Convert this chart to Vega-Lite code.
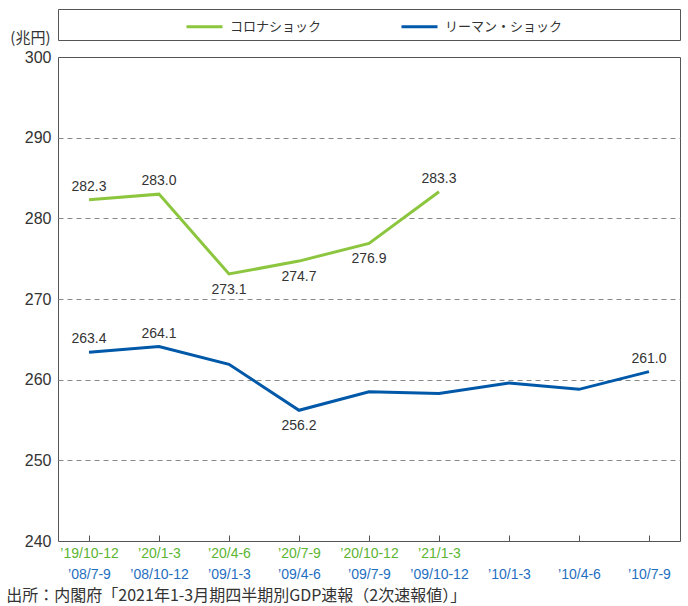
{
  "$schema": "https://vega.github.io/schema/vega-lite/v6.json",
  "padding": {"left": 6, "top": 7, "right": 8, "bottom": 0},
  "config": {
    "font": "Liberation Sans",
    "view": {"stroke": "#555", "strokeWidth": 1}
  },
  "title": {
    "text": "出所：内閣府「2021年1-3月期四半期別GDP速報（2次速報値）」",
    "orient": "bottom", "anchor": "start", "frame": "bounds",
    "font": "Noto Sans CJK JP", "fontSize": 16, "fontWeight": "normal",
    "color": "#333", "offset": 6, "dx": -3
  },
  "spacing": 17,
  "bounds": "flush",
  "vconcat": [
    {
      "width": 622, "height": 31,
      "view": {"stroke": "#555", "strokeWidth": 1, "fill": "white"},
      "data": {"values": [{"series": "コロナショック"}]},
      "mark": {"type": "text", "opacity": 0},
      "encoding": {"text": {"field": "series", "type": "nominal"}}
    },
    {
      "width": 622, "height": 484,
      "data": {"values": [
        {"series": "コロナショック", "idx": 0, "quarter": "’19/10-12", "value": 282.3},
        {"series": "コロナショック", "idx": 1, "quarter": "’20/1-3", "value": 283.0},
        {"series": "コロナショック", "idx": 2, "quarter": "’20/4-6", "value": 273.1},
        {"series": "コロナショック", "idx": 3, "quarter": "’20/7-9", "value": 274.7},
        {"series": "コロナショック", "idx": 4, "quarter": "’20/10-12", "value": 276.9},
        {"series": "コロナショック", "idx": 5, "quarter": "’21/1-3", "value": 283.3},
        {"series": "リーマン・ショック", "idx": 0, "quarter": "’08/7-9", "value": 263.4},
        {"series": "リーマン・ショック", "idx": 1, "quarter": "’08/10-12", "value": 264.1},
        {"series": "リーマン・ショック", "idx": 2, "quarter": "’09/1-3", "value": 261.9},
        {"series": "リーマン・ショック", "idx": 3, "quarter": "’09/4-6", "value": 256.2},
        {"series": "リーマン・ショック", "idx": 4, "quarter": "’09/7-9", "value": 258.5},
        {"series": "リーマン・ショック", "idx": 5, "quarter": "’09/10-12", "value": 258.3},
        {"series": "リーマン・ショック", "idx": 6, "quarter": "’10/1-3", "value": 259.6},
        {"series": "リーマン・ショック", "idx": 7, "quarter": "’10/4-6", "value": 258.8},
        {"series": "リーマン・ショック", "idx": 8, "quarter": "’10/7-9", "value": 261.0}
      ]},
      "encoding": {
        "y": {
          "field": "value", "type": "quantitative",
          "scale": {"domain": [240, 300], "zero": false, "nice": false},
          "axis": {
            "values": [240, 250, 260, 270, 280, 290, 300],
            "title": "(兆円)", "titleAngle": 0, "titleAlign": "right", "titleBaseline": "bottom",
            "titleX": -8, "titleY": -12,
            "titleFont": "Noto Sans CJK JP", "titleFontSize": 15, "titleFontWeight": "normal", "titleColor": "#333",
            "labelFontSize": 16, "labelColor": "#333", "labelPadding": 7,
            "ticks": false, "domain": false,
            "grid": true, "gridColor": "#888", "gridDash": [5, 4], "gridWidth": 1,
            "gridOpacity": {"condition": {"test": "datum.value == 240 || datum.value == 300", "value": 0}, "value": 1}
          }
        },
        "color": {
          "field": "series", "type": "nominal",
          "scale": {"domain": ["コロナショック", "リーマン・ショック"], "range": ["#8cc63f", "#0058a8"]},
          "legend": {
            "orient": "none", "legendX": 127, "legendY": -2,
            "direction": "horizontal", "title": null,
            "symbolType": "stroke", "symbolSize": 1296, "symbolStrokeWidth": 3,
            "labelFont": "Noto Sans CJK JP", "labelFontSize": 13, "labelColor": "#333",
            "labelOffset": 6, "columnPadding": 73
          }
        }
      },
      "layer": [
        {
          "mark": {"type": "line", "strokeWidth": 3},
          "encoding": {
            "x": {
              "field": "idx", "type": "ordinal",
              "scale": {"type": "point", "padding": 0.443},
              "axis": {
                "orient": "bottom", "title": null, "labelAngle": 0,
                "labelExpr": "['’19/10-12','’20/1-3','’20/4-6','’20/7-9','’20/10-12','’21/1-3','','',''][datum.value]",
                "labelColor": "#5cb531", "labelFontSize": 14, "labelPadding": 11, "labelBaseline": "top",
                "tickSize": -6, "tickColor": "#555", "domain": false, "grid": false
              }
            }
          }
        },
        {
          "transform": [{"filter": "(datum.series == 'コロナショック' && (datum.idx <= 1 || datum.idx == 5)) || (datum.series == 'リーマン・ショック' && (datum.idx <= 1 || datum.idx == 8))"}],
          "mark": {"type": "text", "baseline": "bottom", "dy": -6, "fontSize": 14},
          "encoding": {
            "x": {
              "field": "idx", "type": "ordinal",
              "axis": {
                "orient": "bottom", "title": null, "labelAngle": 0,
                "labelExpr": "['’08/7-9','’08/10-12','’09/1-3','’09/4-6','’09/7-9','’09/10-12','’10/1-3','’10/4-6','’10/7-9'][datum.value]",
                "labelColor": "#1f6fc1", "labelFontSize": 14, "labelPadding": 26, "labelBaseline": "top",
                "ticks": false, "domain": false, "grid": false
              }
            },
            "text": {"field": "value", "type": "quantitative", "format": ".1f"},
            "color": {"value": "#333"}
          }
        },
        {
          "transform": [{"filter": "(datum.series == 'コロナショック' && datum.idx >= 2 && datum.idx <= 4) || (datum.series == 'リーマン・ショック' && datum.idx == 3)"}],
          "mark": {"type": "text", "baseline": "top", "dy": 9, "fontSize": 14},
          "encoding": {
            "x": {"field": "idx", "type": "ordinal", "axis": null},
            "text": {"field": "value", "type": "quantitative", "format": ".1f"},
            "color": {"value": "#333"}
          }
        }
      ],
      "resolve": {"axis": {"x": "independent"}}
    }
  ]
}
